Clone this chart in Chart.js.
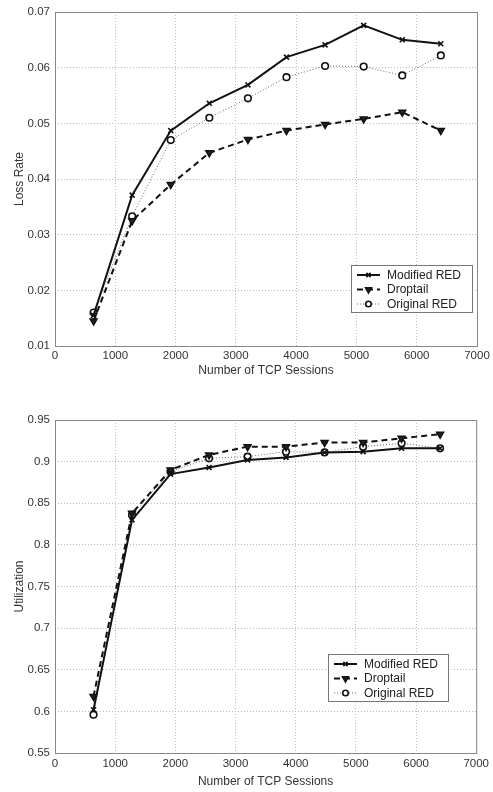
<!DOCTYPE html>
<html>
<head>
<meta charset="utf-8">
<script src="https://cdn.jsdelivr.net/npm/chart.js@4/dist/chart.umd.min.js"></script>
<style>
  html, body { margin: 0; padding: 0; background: #fff; }
  .plot { position: relative; width: 493px; height: 396px; }
</style>
</head>
<body>
<div class="plot"><canvas id="lossChart" width="493" height="396"></canvas></div>
<div class="plot"><canvas id="utilChart" width="493" height="396"></canvas></div>
<script>
const sessions = [640, 1280, 1920, 2560, 3200, 3840, 4480, 5120, 5760, 6400];
const seriesNames = ["Modified RED", "Droptail", "Original RED"];

const lossModified = [0.0155, 0.0371, 0.0487, 0.0536, 0.0569, 0.0619, 0.0641, 0.0676, 0.0650, 0.0643];
const lossDroptail = [0.0145, 0.0325, 0.0390, 0.0447, 0.0471, 0.0487, 0.0498, 0.0508, 0.0520, 0.0487];
const lossOriginal = [0.0160, 0.0333, 0.0470, 0.0510, 0.0545, 0.0583, 0.0603, 0.0602, 0.0586, 0.0622];

const utilModified = [0.602, 0.830, 0.885, 0.893, 0.902, 0.905, 0.911, 0.912, 0.916, 0.916];
const utilDroptail = [0.618, 0.838, 0.890, 0.908, 0.918, 0.918, 0.923, 0.923, 0.928, 0.933];
const utilOriginal = [0.596, 0.836, 0.888, 0.904, 0.906, 0.912, 0.911, 0.918, 0.922, 0.916];

const FONT = "'Liberation Sans', Arial, Helvetica, sans-serif";

const styles = [
  { borderColor: "#111", borderWidth: 2, borderDash: [], pointStyle: "crossRot", pointRadius: 3.5, pointBorderWidth: 1.6, pointBackgroundColor: "#111", pointRotation: 0 },
  { borderColor: "#111", borderWidth: 2, borderDash: [6, 4], pointStyle: "triangle", pointRadius: 4, pointBorderWidth: 1.5, pointBackgroundColor: "#222", pointRotation: 180 },
  { borderColor: "#666", borderWidth: 1, borderDash: [1, 2], pointStyle: "circle", pointRadius: 3.3, pointBorderWidth: 1.6, pointBackgroundColor: "#fff", pointRotation: 0 }
];

function makeDatasets(list) {
  return list.map((vals, i) => Object.assign({
    label: seriesNames[i],
    data: sessions.map((s, j) => ({ x: s, y: vals[j] })),
    showLine: true,
    fill: false,
    tension: 0,
    pointBorderColor: "#111",
    pointHoverRadius: 4
  }, styles[i]));
}

// frame around plot area + legend box inside it
const framePlugin = {
  id: "frameLegend",
  afterDraw(chart, args, opts) {
    const { ctx, chartArea: a } = chart;
    ctx.save();
    ctx.strokeStyle = "#888";
    ctx.lineWidth = 1;
    ctx.setLineDash([]);
    ctx.strokeRect(a.left + 0.5, a.top + 0.5, a.right - a.left, a.bottom - a.top);

    const bx = opts.x, by = opts.y, bw = opts.w, bh = opts.h;
    ctx.fillStyle = "#fff";
    ctx.fillRect(bx, by, bw, bh);
    ctx.strokeStyle = "#777";
    ctx.strokeRect(bx + 0.5, by + 0.5, bw, bh);
    ctx.font = "12px " + FONT;
    ctx.textBaseline = "middle";
    chart.data.datasets.forEach((ds, i) => {
      const y = by + 10 + i * 14.5;
      ctx.strokeStyle = ds.borderColor;
      ctx.lineWidth = ds.borderWidth;
      ctx.setLineDash(ds.borderDash);
      ctx.beginPath();
      ctx.moveTo(bx + 6, y);
      ctx.lineTo(bx + 29, y);
      ctx.stroke();
      ctx.setLineDash([]);
      ctx.strokeStyle = "#111";
      ctx.fillStyle = ds.pointBackgroundColor;
      ctx.lineWidth = ds.pointBorderWidth;
      Chart.helpers.drawPoint(ctx, { pointStyle: ds.pointStyle, radius: ds.pointRadius - 0.5, rotation: ds.pointRotation, borderWidth: ds.pointBorderWidth }, bx + 17.5, y);
      ctx.fillStyle = "#222";
      ctx.fillText(ds.label, bx + 36, y + 0.5);
    });
    ctx.restore();
  }
};

function makeChart(id, datasets, yMin, yMax, yStep, yTitle, area, legendBox) {
  new Chart(document.getElementById(id), {
    type: "scatter",
    data: { datasets },
    plugins: [framePlugin],
    options: {
      responsive: false,
      animation: false,
      layout: { padding: { top: area.top, right: 16, bottom: area.bottomPad, left: 0 } },
      plugins: {
        legend: { display: false },
        tooltip: { enabled: false },
        frameLegend: legendBox
      },
      scales: {
        x: {
          type: "linear",
          min: 0, max: 7000,
          ticks: { stepSize: 1000, padding: area.tickPad, color: "#333", font: { family: FONT, size: 11.5 }, callback: v => String(v), maxRotation: 0 },
          grid: { color: "#bbb", drawTicks: false, tickBorderDash: [1, 2] },
          border: { display: false, dash: [1, 2] },
          title: { display: true, text: "Number of TCP Sessions", color: "#333", font: { family: FONT, size: 12 }, padding: { top: 0, bottom: 0 } },
          afterFit(scale) { scale.height = area.xHeight; }
        },
        y: {
          min: yMin, max: yMax,
          ticks: { stepSize: yStep, padding: 5, color: "#333", font: { family: FONT, size: 11.5 }, callback: v => String(Number(v.toFixed(2))) },
          grid: { color: "#bbb", drawTicks: false },
          border: { display: false, dash: [1, 2] },
          title: { display: true, text: yTitle, color: "#333", font: { family: FONT, size: 12 }, padding: { top: 12, bottom: 0 } },
          afterFit(scale) { scale.width = 55; }
        }
      }
    }
  });
}

makeChart("lossChart", makeDatasets([lossModified, lossDroptail, lossOriginal]), 0.01, 0.07, 0.01, "Loss Rate",
  { top: 12, bottomPad: 18, xHeight: 32, tickPad: 3 },
  { x: 351, y: 265, w: 121, h: 47 });

makeChart("utilChart", makeDatasets([utilModified, utilDroptail, utilOriginal]), 0.55, 0.95, 0.05, "Utilization",
  { top: 24, bottomPad: 3, xHeight: 36, tickPad: 4 },
  { x: 328, y: 258, w: 120, h: 47 });
</script>
</body>
</html>
